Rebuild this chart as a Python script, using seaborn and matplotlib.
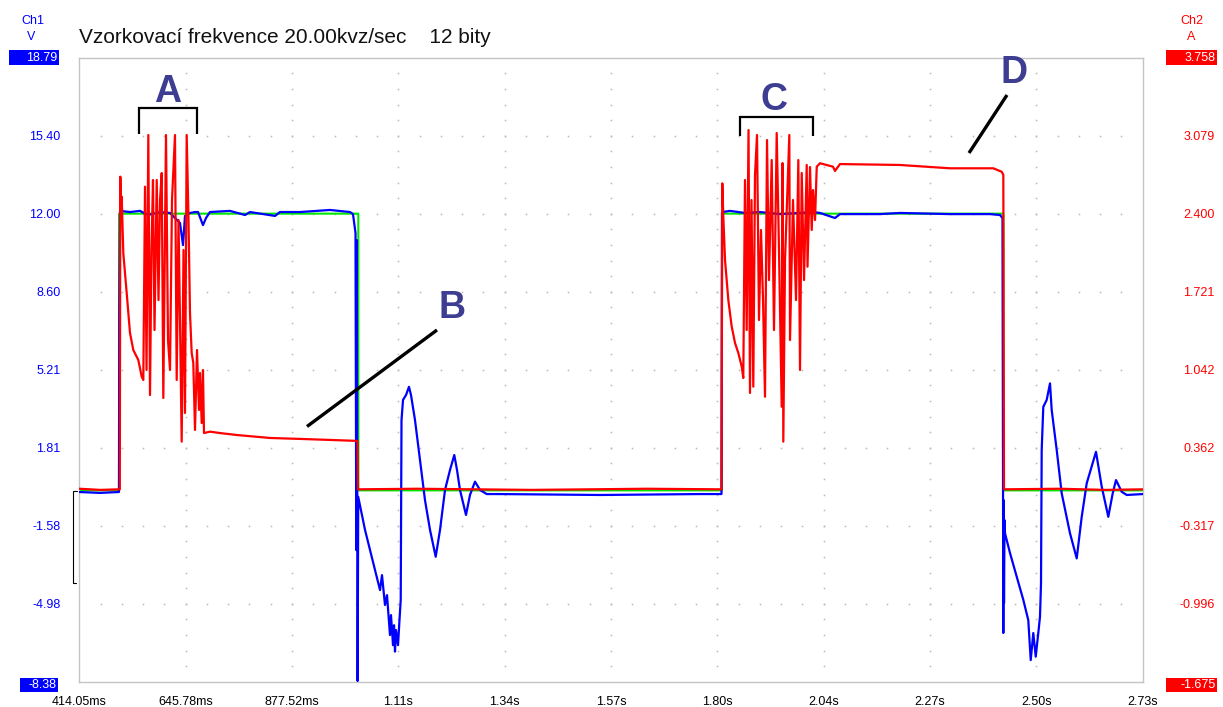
import numpy as np
import pandas as pd
import matplotlib
matplotlib.use("Agg")
import matplotlib.pyplot as plt
from matplotlib.lines import Line2D
from matplotlib.patches import Rectangle
import seaborn as sns

# ---------------- data ----------------
TITLE = "Vzorkovací frekvence 20.00kvz/sec    12 bity"
X_MIN, X_MAX = 0.41405, 2.73075      # s
V_MIN, V_MAX = -8.38, 18.79          # Ch1 [V]
A_MIN, A_MAX = -1.675, 3.758         # Ch2 [A]

x_tick_labels = ["414.05ms", "645.78ms", "877.52ms", "1.11s", "1.34s", "1.57s",
                 "1.80s", "2.04s", "2.27s", "2.50s", "2.73s"]
v_tick_labels = ["-8.38", "-4.98", "-1.58", "1.81", "5.21", "8.60", "12.00", "15.40", "18.79"]
a_tick_labels = ["-1.675", "-0.996", "-0.317", "0.362", "1.042", "1.721", "2.400", "3.079", "3.758"]

# Ch1 (blue, V)
ch1_t = [0.4141, 0.4591, 0.5005, 0.5012, 0.5027, 0.5245, 0.5463, 0.5637, 0.5899, 0.6117,
         0.6334, 0.6400, 0.6443, 0.6552, 0.6661, 0.6727, 0.6835, 0.6901, 0.6988, 0.7424,
         0.7751, 0.7860, 0.8404, 0.8513, 0.8949, 0.9602, 1.0038, 1.0103, 1.0158, 1.0175,
         1.0186, 1.0204, 1.0217,
         1.0365, 1.0583, 1.0692, 1.0735, 1.0800, 1.0844, 1.0909, 1.0931, 1.0975, 1.0997,
         1.1018, 1.1040, 1.1084, 1.1116, 1.1143, 1.1160, 1.1193, 1.1258, 1.1323, 1.1367,
         1.1454, 1.1563, 1.1672, 1.1781, 1.1905, 1.1999, 1.2108, 1.2217, 1.2310, 1.2369,
         1.2434, 1.2565, 1.2652, 1.2761, 1.2870, 1.3016, 1.3306, 1.5485, 1.7663, 1.8131,
         1.8142, 1.8153, 1.8317, 1.8643, 1.8970, 1.9406, 1.9842, 2.0125, 2.0277, 2.0604,
         2.0713, 2.1585, 2.2020, 2.3110, 2.3981, 2.4199, 2.4253, 2.4271, 2.4277, 2.4286,
         2.4297, 2.4308, 2.4417, 2.4563, 2.4707, 2.4815, 2.4868, 2.4924, 2.4977, 2.5033,
         2.5070, 2.5092, 2.5107, 2.5142, 2.5216, 2.5288, 2.5325, 2.5434, 2.5543, 2.5724,
         2.5870, 2.5979, 2.6088, 2.6290, 2.6415, 2.6558, 2.6654, 2.6726, 2.6850, 2.6959,
         2.7308]
ch1_v = [-0.12, -0.16, -0.12, 7.80, 12.12, 12.07, 12.12, 11.94, 12.07, 12.03,
         11.59, 10.63, 11.90, 12.03, 12.07, 12.07, 11.50, 11.81, 12.07, 12.12,
         11.94, 12.07, 11.90, 12.07, 12.07, 12.16, 12.07, 11.98, 11.16, -2.65,
         10.85, -8.35, -0.33,
         -1.77, -3.52, -4.39, -3.74, -5.04, -4.61, -6.35, -5.48, -6.79, -5.92,
         -7.07, -6.13, -6.79, -5.70, -4.82, 3.01, 3.89, 4.10, 4.46, 4.10,
         3.01, 1.27, -0.48, -1.77, -2.94, -1.77, -0.03, 0.84, 1.49, 0.84,
         -0.03, -1.12, -0.25, 0.33, -0.03, -0.21, -0.21, -0.25, -0.21, -0.21,
         12.03, 12.07, 12.12, 12.03, 12.07, 11.98, 12.03, 12.07, 12.03, 11.81,
         11.98, 11.98, 12.03, 11.98, 11.98, 11.94, 11.81, -6.26, -0.47, -4.95,
         -1.34, -1.92, -2.78, -3.81, -4.82, -5.70, -7.44, -6.26, -7.29, -6.26,
         -5.55, -4.10, 1.71, 3.59, 3.89, 4.61, 3.45, 1.71, -0.18, -1.92,
         -3.01, -1.20, 0.26, 1.63, 0.11, -1.20, -0.18, 0.40, -0.11, -0.25,
         -0.21]

# Ch2 (red, A) - first pulse
ch2_t_p1 = [0.4141, 0.4600, 0.5005, 0.5023, 0.5034, 0.5053, 0.5064, 0.5099, 0.5173, 0.5245,
            0.5317, 0.5426, 0.5500, 0.5535, 0.5572, 0.5605, 0.5644, 0.5681, 0.5713, 0.5746,
            0.5779, 0.5827, 0.5866, 0.5899, 0.5936, 0.5971, 0.6029, 0.6073, 0.6117, 0.6160,
            0.6225, 0.6262, 0.6302, 0.6334, 0.6371, 0.6411, 0.6443, 0.6480, 0.6520, 0.6552,
            0.6589, 0.6624, 0.6661, 0.6705, 0.6748, 0.6770, 0.6807, 0.6835, 0.6857, 0.6988,
            0.7206, 0.7570, 0.8295, 0.9014, 1.0103, 1.0201, 1.0212, 1.1500, 1.4000, 1.6500,
            1.8131]
ch2_a_p1 = [0.005, -0.005, 0.000, 0.000, 2.722, 2.345, 2.548, 2.058, 1.709, 1.361,
            1.213, 1.126, 0.981, 0.952, 2.635, 1.039, 3.085, 0.821, 2.084, 2.693,
            1.387, 2.693, 1.648, 2.519, 2.754, 0.795, 3.085, 1.300, 1.039, 2.519,
            3.085, 0.952, 2.345, 1.474, 0.415, 2.084, 0.665, 3.085, 2.345, 1.535,
            1.187, 1.100, 0.517, 1.213, 0.691, 1.013, 0.577, 1.039, 0.490, 0.502,
            0.490, 0.473, 0.447, 0.438, 0.423, 0.421, 0.000, 0.005, -0.005, 0.005,
            0.000]
# Ch2 (red, A) - second pulse
ch2_t_p2 = [1.8149, 1.8171, 1.8208, 1.8280, 1.8354, 1.8426, 1.8498, 1.8572, 1.8606, 1.8643,
            1.8680, 1.8720, 1.8752, 1.8785, 1.8824, 1.8861, 1.8905, 1.8948, 1.8992, 1.9036,
            1.9079, 1.9123, 1.9166, 1.9225, 1.9275, 1.9334, 1.9384, 1.9443, 1.9460, 1.9478,
            1.9515, 1.9609, 1.9624, 1.9689, 1.9755, 1.9805, 1.9842, 1.9879, 1.9929, 1.9988,
            2.0005, 2.0060, 2.0097, 2.0125, 2.0169, 2.0206, 2.0277, 2.0561, 2.0604, 2.0713,
            2.2020, 2.3110, 2.4053, 2.4236, 2.4271, 2.4286, 2.5500, 2.6500, 2.7308]
ch2_a_p2 = [2.664, 2.374, 1.997, 1.648, 1.416, 1.274, 1.187, 1.068, 0.969, 2.693,
            1.387, 3.128, 0.839, 2.519, 0.894, 2.737, 3.085, 1.474, 2.258, 1.648,
            0.806, 3.041, 1.822, 2.867, 1.387, 3.102, 2.084, 0.719, 2.841, 0.415,
            1.997, 3.085, 1.300, 2.519, 1.648, 2.867, 1.039, 2.754, 1.822, 2.824,
            1.938, 2.806, 2.258, 2.606, 2.345, 2.809, 2.839, 2.809, 2.772, 2.832,
            2.824, 2.795, 2.795, 2.765, 2.737, 0.000, 0.005, -0.005, 0.000]

# gate trace (green, V)
gate_t = [0.4141, 0.5005, 0.5007, 1.0219, 1.0221, 1.8140, 1.8142, 2.4273, 2.4275, 2.7308]
gate_v = [-0.05, -0.05, 12.00, 12.00, -0.05, -0.05, 12.00, 12.00, -0.05, -0.05]

# ---------------- figure ----------------
W, H = 1223, 707
sns.set_style("white")
plt.rcParams["font.family"] = ["Liberation Sans", "DejaVu Sans"]

BLUE, RED, GREEN = "#0000ff", "#ff0000", "#00e600"
ANN = "#3d3d91"


def fx(px):
    return px / W


def fy(py):
    return 1 - py / H


fig = plt.figure(figsize=(W / 100, H / 100), dpi=100)
L, R, T, B = 79.3, 1142.7, 57.7, 681.7
ax1 = fig.add_axes([L / W, 1 - B / H, (R - L) / W, (B - T) / H])
ax2 = ax1.twinx()

ax1.set_xlim(X_MIN, X_MAX)
ax1.set_ylim(V_MIN, V_MAX)
ax2.set_ylim(A_MIN, A_MAX)

# dotted grid
x_major = np.linspace(X_MIN, X_MAX, 11)
y_major = np.linspace(V_MIN, V_MAX, 9)
x_minor = np.linspace(X_MIN, X_MAX, 51)
y_minor = np.linspace(V_MIN, V_MAX, 41)
gx, gy = [], []
for xv in x_major[1:-1]:
    gx += [xv] * len(y_minor[1:-1]); gy += list(y_minor[1:-1])
for yv in y_major[1:-1]:
    gx += list(x_minor[1:-1]); gy += [yv] * len(x_minor[1:-1])
ax1.plot(gx, gy, ls="none", marker="s", ms=1.1, mew=0, color="#b8b8b8", zorder=1)

gate_df = pd.DataFrame({"t": gate_t, "v": gate_v})
ch1_df = pd.DataFrame({"t": ch1_t, "v": ch1_v})
ch2_df = pd.DataFrame({"t": ch2_t_p1 + ch2_t_p2, "a": ch2_a_p1 + ch2_a_p2})

sns.lineplot(data=gate_df, x="t", y="v", estimator=None, sort=False, color=GREEN,
             lw=1.5, ax=ax1, zorder=2)
sns.lineplot(data=ch1_df, x="t", y="v", estimator=None, sort=False, color=BLUE,
             lw=1.6, ax=ax1, zorder=3)
sns.lineplot(data=ch2_df, x="t", y="a", estimator=None, sort=False, color=RED,
             lw=1.6, ax=ax2, zorder=3)

for a in (ax1, ax2):
    a.set_xlabel("")
    a.set_ylabel("")
    a.tick_params(length=0)
for s in ax1.spines.values():
    s.set_color("#c4c4c4")
    s.set_linewidth(1.0)
for s in ax2.spines.values():
    s.set_visible(False)

ax1.set_xticks(x_major)
ax1.set_xticklabels(x_tick_labels, fontsize=9, color="black")
ax1.tick_params(axis="x", pad=10)

ax1.set_yticks(y_major)
ax1.set_yticklabels([""] + v_tick_labels[1:-1] + [""], fontsize=9, color=BLUE)
ax1.tick_params(axis="y", pad=13.5)

ax2.set_yticks(np.linspace(A_MIN, A_MAX, 9))
ax2.set_yticklabels([""] + a_tick_labels[1:-1] + [""], fontsize=9, color=RED)
ax2.tick_params(axis="y", pad=52)
for lab in ax2.get_yticklabels():
    lab.set_horizontalalignment("right")

# boxed end-of-scale labels
def boxed(x0, x1, y0, y1, text, color):
    fig.add_artist(Rectangle((fx(x0), fy(y1)), (x1 - x0) / W, (y1 - y0) / H,
                             transform=fig.transFigure, facecolor=color, edgecolor="none"))
    fig.text(fx(x1 - 1.5), fy((y0 + y1) / 2 + 0.5), text, ha="right", va="center",
             color="white", fontsize=9)

boxed(9, 58.7, 50, 65.3, v_tick_labels[-1], BLUE)
boxed(20, 58.3, 677.7, 692.3, v_tick_labels[0], BLUE)
boxed(1165.7, 1216.7, 50, 65.3, a_tick_labels[-1], RED)
boxed(1166, 1217, 677.7, 692.3, a_tick_labels[0], RED)

# channel headers
fig.text(fx(33), fy(20.5), "Ch1", ha="center", va="center", color=BLUE, fontsize=9)
fig.text(fx(31), fy(36.5), "V", ha="center", va="center", color=BLUE, fontsize=9)
fig.text(fx(1191.7), fy(20.5), "Ch2", ha="center", va="center", color=RED, fontsize=9)
fig.text(fx(1191), fy(36.5), "A", ha="center", va="center", color=RED, fontsize=9)

# title
fig.text(fx(79), fy(37.5), TITLE, ha="left", va="center", fontsize=15, color="#111111")

# trigger marker at left
fig.add_artist(Line2D([fx(77), fx(73), fx(73), fx(76)], [fy(491), fy(491), fy(583), fy(583)],
                      transform=fig.transFigure, color="black", lw=0.8))

# annotations
def pline(pts, lw):
    fig.add_artist(Line2D([fx(p[0]) for p in pts], [fy(p[1]) for p in pts],
                          transform=fig.transFigure, color="black", lw=lw,
                          solid_capstyle="butt", solid_joinstyle="miter"))

pline([(139, 134.3), (139, 108.3), (197.3, 108.3), (197.3, 134.3)], 1.6)
pline([(740, 136), (740, 117), (813, 117), (813, 136)], 1.6)
pline([(307, 426.5), (437, 330)], 2.4)
pline([(969, 153), (1007, 95)], 2.4)

for letter, (px, py) in {"A": (168, 102), "B": (452, 318), "C": (774, 110), "D": (1014, 83)}.items():
    fig.text(fx(px), fy(py), letter, ha="center", va="baseline", fontsize=27,
             fontweight="bold", color=ANN)

fig.savefig("out.png", dpi=100)
